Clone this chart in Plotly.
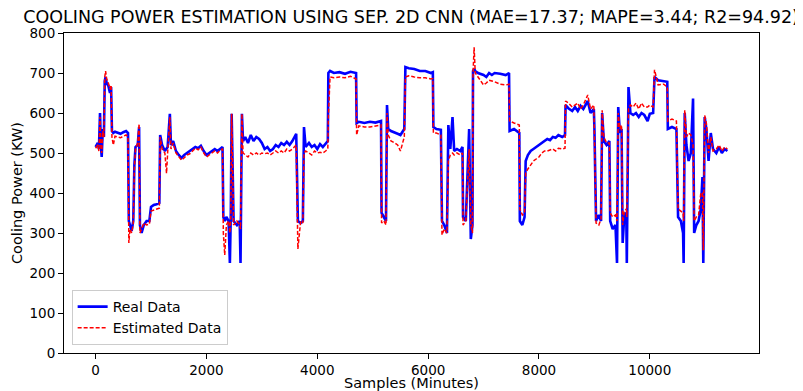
import plotly.graph_objects as go

samples = [0,40,60,80,95,110,130,150,165,180,200,230,260,280,295,320,350,400,450,500,550,585,
600,620,650,680,700,720,760,785,800,830,870,920,970,1000,1050,1100,1150,1165,1200,1250,1280,1300,1340,1360,
1400,1450,1500,1550,1600,1650,1700,1750,1800,1850,1900,1950,2000,2050,2100,2150,2200,2250,2290,
2305,2330,2360,2400,2423,2440,2455,2470,2490,2550,2600,2615,2640,2660,2700,2750,2800,2850,2900,2950,
3000,3050,3100,3150,3200,3250,3300,3350,3400,3450,3500,3550,3620,3650,3700,3740,3760,3790,3850,3900,
3950,4000,4050,4100,4150,4190,4200,4230,4300,4400,4500,4600,4700,4710,4750,4850,4950,5050,5150,5160,
5200,5240,5258,5280,5330,5400,5450,5500,5550,5570,5590,5650,5750,5850,5950,6050,6085,6095,6150,6230,
6250,6290,6340,6365,6400,6440,6470,6520,6580,6620,6630,6680,6740,6770,6800,6810,6830,6850,6900,6950,
7000,7050,7100,7150,7200,7300,7400,7460,7470,7550,7600,7645,7655,7700,7740,7760,7800,7850,7900,7950,
8000,8050,8100,8150,8200,8250,8300,8350,8420,8470,8480,8530,8600,8650,8700,8750,8800,8880,8930,8990,
9000,9030,9080,9120,9140,9170,9220,9270,9285,9330,9380,9408,9430,9460,9490,9510,9540,9575,9585,9615,
9650,9700,9750,9800,9850,9900,9960,10000,10060,10085,10150,10250,10315,10325,10400,10480,10510,10560,
10600,10610,10630,10660,10700,10740,10780,10800,10840,10880,10920,10950,10965,10990,11020,11060,11100,
11140,11200,11250,11300,11350,11400]

real_kw = [515,525,510,600,520,490,560,540,680,690,675,668,650,665,555,550,553,550,548,552,555,550,
330,320,305,330,470,515,520,565,320,300,320,330,330,365,370,372,375,545,520,505,510,515,598,520,
530,505,495,488,495,500,505,510,515,512,518,505,495,500,505,510,505,512,515,
340,330,340,330,225,350,598,500,330,320,330,225,598,530,540,525,545,530,540,535,
525,510,515,505,510,520,515,525,520,528,520,530,548,330,325,330,565,515,525,515,
520,510,522,515,525,530,700,705,700,702,698,703,700,575,578,575,578,576,580,350,
340,330,620,560,555,550,548,545,555,560,715,712,710,705,705,700,702,565,560,558,
330,320,300,570,510,590,505,510,505,515,340,330,560,285,320,705,710,705,700,698,
695,690,700,695,700,698,695,700,555,560,555,550,330,320,340,480,495,505,510,515,
520,525,530,535,532,540,538,545,540,545,620,612,605,615,605,618,610,630,600,610,
565,330,345,330,600,530,520,530,330,310,320,225,615,550,560,275,345,350,225,665,
600,595,600,590,600,595,580,598,600,690,682,680,678,560,565,560,340,330,
300,225,600,520,480,500,636,300,320,330,360,440,225,590,560,480,550,
510,500,515,500,510,505]

estimated_kw = [512,520,505,590,515,500,555,540,690,705,685,675,660,670,540,520,542,540,538,542,545,540,
275,310,300,325,465,510,525,573,300,310,325,320,322,355,357,360,362,540,510,500,449,500,590,510,
525,500,490,482,488,495,498,505,512,508,515,500,490,495,500,505,500,508,510,
300,245,320,330,300,340,598,490,320,330,320,310,598,500,495,490,500,495,500,495,
500,498,500,495,500,505,500,505,500,510,505,510,520,260,330,325,500,505,500,495,
505,500,502,500,505,510,590,690,688,690,688,692,685,545,568,565,565,568,570,325,
330,320,600,545,530,525,520,505,530,540,690,693,690,688,688,685,686,550,550,545,
295,310,300,480,495,500,495,500,495,500,320,330,510,320,300,700,764,700,690,680,
670,675,682,680,678,672,670,672,580,575,572,570,360,345,350,450,460,470,480,485,
490,500,505,505,508,510,505,512,510,512,630,625,615,620,625,610,620,645,610,620,
555,325,320,335,607,540,525,525,350,340,345,330,600,560,570,320,355,360,340,610,
620,615,625,610,625,615,615,620,615,708,670,672,665,580,585,580,360,355,
350,330,607,540,550,545,520,330,340,345,400,400,257,594,575,500,540,
505,510,520,505,515,510]

x_tick_vals = [0, 2000, 4000, 6000, 8000, 10000]
x_tick_text = ["0", "2000", "4000", "6000", "8000", "10000"]
y_tick_vals = [0, 100, 200, 300, 400, 500, 600, 700, 800]

fig = go.Figure()
fig.add_trace(go.Scatter(x=samples, y=real_kw, mode="lines", name="Real Data",
                         line=dict(color="#0000ff", width=2.6)))
fig.add_trace(go.Scatter(x=samples, y=estimated_kw, mode="lines", name="Estimated Data",
                         line=dict(color="#ff0000", width=1.5, dash="4px,2px")))

axis_common = dict(showline=True, linecolor="black", linewidth=1, mirror=True,
                   ticks="outside", ticklen=5, tickcolor="black", showgrid=False,
                   zeroline=False, automargin=False, tickfont=dict(size=13.5, color="black"))

# page body has an 8px margin, so the figure is sized and placed to compensate
fig.update_layout(
    width=795, height=383,
    margin=dict(l=56, r=44, t=25, b=38),
    paper_bgcolor="white", plot_bgcolor="white",
    font=dict(family="DejaVu Sans", color="black"),
    title=dict(text="COOLING POWER ESTIMATION USING SEP. 2D CNN (MAE=17.37; MAPE=3.44; R2=94.92)",
               x=0.507, xanchor="center", y=0.977, yanchor="middle", font=dict(size=17.5)),
    xaxis=dict(range=[-570, 11970], tickvals=x_tick_vals, ticktext=x_tick_text,
               title=dict(text="Samples (Minutes)", font=dict(size=14.5), standoff=7), **axis_common),
    yaxis=dict(range=[0, 800], tickvals=y_tick_vals,
               title=dict(text="Cooling Power (KW)", font=dict(size=14.5), standoff=3), **axis_common),
    legend=dict(x=0.011, y=0.025, xanchor="left", yanchor="bottom",
                bgcolor="rgba(255,255,255,0.8)", bordercolor="#cccccc", borderwidth=1,
                font=dict(size=14), itemwidth=30),
    showlegend=True,
)

fig.write_html("out.html")
